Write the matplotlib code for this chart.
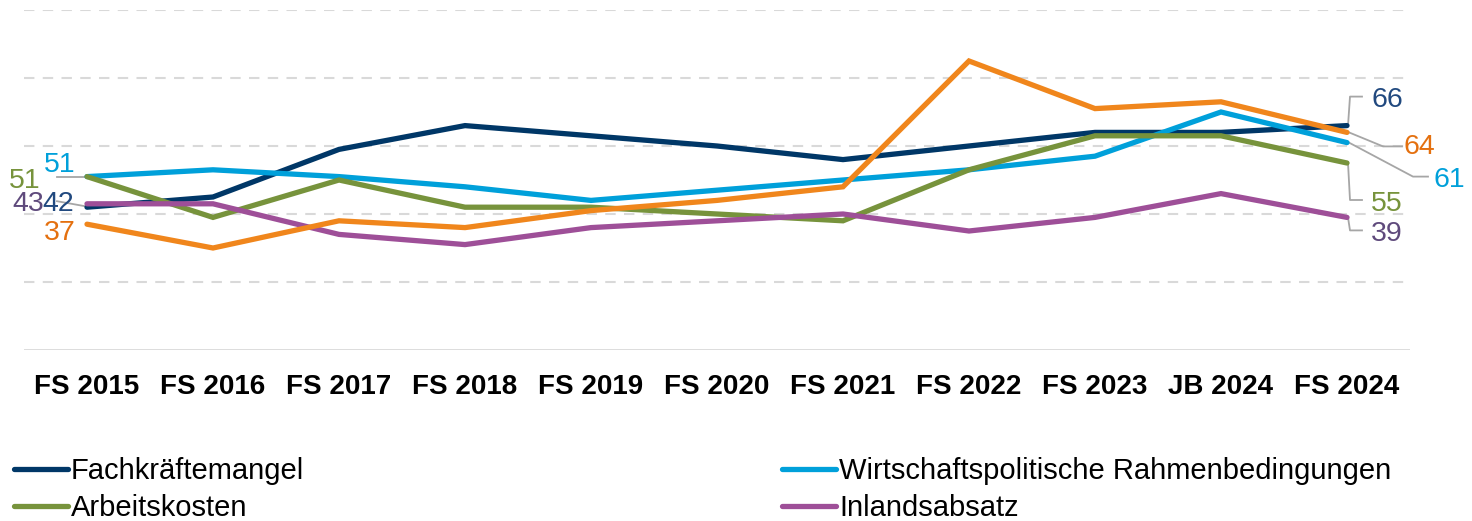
import numpy as np
import matplotlib
matplotlib.use('Agg')
import matplotlib.pyplot as plt
import matplotlib.transforms as mtrans

plt.rcParams['font.family'] = ['Liberation Sans', 'DejaVu Sans']

'''
--------------------> DATA <----------------------------
'''

periods = ['FS 2015', 'FS 2016', 'FS 2017', 'FS 2018', 'FS 2019', 'FS 2020',
           'FS 2021', 'FS 2022', 'FS 2023', 'JB 2024', 'FS 2024']

fachkraefte = [42, 45, 59, 66, 63, 60, 56, 60, 64, 64, 66]
wirtschaftspolitik = [51, 53, 51, 48, 44, 47, 50, 53, 57, 70, 61]
arbeitskosten = [51, 39, 50, 42, 42, 40, 38, 53, 63, 63, 55]
inlandsabsatz = [43, 43, 34, 31, 36, 38, 40, 35, 39, 46, 39]
energie = [37, 30, 38, 36, 41, 44, 48, 85, 71, 73, 64]  # no legend entry visible

'''
--------------------> STYLE <----------------------------
'''

navy = '#003767'
cyan = '#00A0DA'
green = '#77933C'
purple = '#9E4F98'
orange = '#F0861C'

navy_lab = '#21497F'
purple_lab = '#5F4A7C'
orange_lab = '#E4700F'
leader_color = '#A6A6A6'

lw = 3.8
lab_size = 20.5

'''
--------------------> PLOT <----------------------------
'''

fig = plt.figure(figsize=(14.72, 5.21), dpi=100)
ax = fig.add_axes([24 / 1472, 1 - 350 / 521, (1410 - 24) / 1472, 340 / 521])
x = np.arange(len(periods))

series = [
    (fachkraefte, navy, 'Fachkräftemangel'),
    (wirtschaftspolitik, cyan, 'Wirtschaftspolitische Rahmenbedingungen'),
    (arbeitskosten, green, 'Arbeitskosten'),
    (inlandsabsatz, purple, 'Inlandsabsatz'),
    (energie, orange, '_nolegend_'),
]
handles = []
for i, (vals, col, name) in enumerate(series):
    h, = ax.plot(x, vals, color=col, lw=lw, solid_capstyle='round',
                 solid_joinstyle='miter', label=name, zorder=3 + i)
    handles.append(h)

for g in [20, 40, 60, 80, 100]:
    ax.axhline(g, color='#D9D9D9', lw=1.5, ls=(0, (5, 4)), zorder=1)
ax.axhline(0, color='#D9D9D9', lw=2, zorder=1)

ax.set_xlim(-0.5, len(periods) - 0.5)
ax.set_ylim(0, 100)
ax.set_xticks(x)
ax.set_xticklabels(periods, fontsize=20, fontweight='bold')
ax.tick_params(axis='x', length=0, pad=17)
ax.set_yticks([])
for s in ax.spines.values():
    s.set_visible(False)


def label(idx, val, text, color, dx, dy, leader=None):
    # dx, dy and leader vertices are pixel offsets from the data point
    base = mtrans.ScaledTranslation(idx, val, ax.transData)
    tr = mtrans.Affine2D() + base
    if leader is not None:
        lx, ly = zip(*leader)
        ax.plot(lx, ly, color=leader_color, lw=1.3, transform=tr, zorder=2,
                clip_on=False)
    ax.text(dx, dy - 4, text, color=color, fontsize=lab_size, ha='center',
            va='center', transform=tr, zorder=10, clip_on=False)


first = 0
last = len(periods) - 1

# left labels
label(first, arbeitskosten[0], str(arbeitskosten[0]), green, -62, 0)
label(first, wirtschaftspolitik[0], str(wirtschaftspolitik[0]), cyan, -27, 16,
      leader=[(-30, 0), (-2, 0)])
label(first, inlandsabsatz[0], str(inlandsabsatz[0]), purple_lab, -59, 4)
label(first, fachkraefte[0], str(fachkraefte[0]), navy_lab, -29, 7,
      leader=[(-30, 6), (-2, 1)])
label(first, energie[0], str(energie[0]), orange_lab, -27, -5)

# right labels
label(last, fachkraefte[-1], str(fachkraefte[-1]), navy_lab, 40, 30,
      leader=[(1, 0), (3, 29), (15, 29)])
label(last, energie[-1], str(energie[-1]), orange_lab, 72, -11,
      leader=[(2, 0), (36, -14), (55, -14)])
label(last, wirtschaftspolitik[-1], str(wirtschaftspolitik[-1]), cyan, 102, -33,
      leader=[(2, 0), (66, -34), (81, -34)])
label(last, arbeitskosten[-1], str(arbeitskosten[-1]), green, 40, -37,
      leader=[(1, 0), (3, -37), (15, -37)])
label(last, inlandsabsatz[-1], str(inlandsabsatz[-1]), purple_lab, 40, -13,
      leader=[(1, 0), (3, -13), (15, -13)])

leg = fig.legend([handles[0], handles[2], handles[1], handles[3]],
                 ['Fachkräftemangel', 'Arbeitskosten',
                  'Wirtschaftspolitische Rahmenbedingungen', 'Inlandsabsatz'],
                 ncol=2, loc='upper left', bbox_to_anchor=(14 / 1472, 1 - 457 / 521),
                 frameon=False, fontsize=21, handlelength=1.85, handletextpad=0.1,
                 columnspacing=16.4, labelspacing=0.3, borderpad=0, borderaxespad=0)
for line in leg.get_lines():
    line.set_linewidth(lw)
    line.set_solid_capstyle('round')

fig.savefig('out.png', dpi=100)
